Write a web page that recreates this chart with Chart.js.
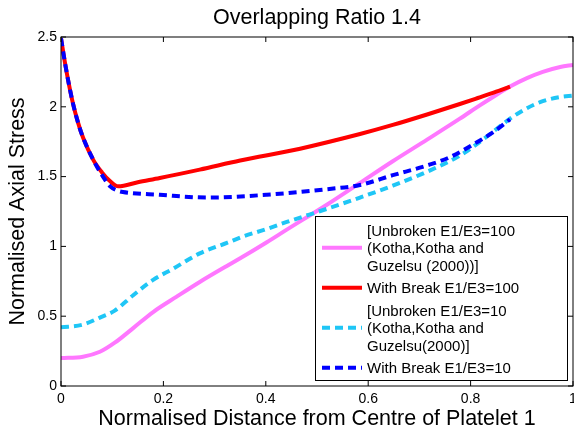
<!DOCTYPE html>
<html>
<head>
<meta charset="utf-8">
<script src="https://cdn.jsdelivr.net/npm/chart.js@4"></script>
<style>
    html, body { margin: 0; padding: 0; background: #fff; overflow: hidden; }
</style>
</head>
<body>
<canvas id="chart" width="574" height="432"></canvas>
<script>
// Series data
const unbroken100X = [0, 0.043, 0.076, 0.105, 0.141, 0.18, 0.226, 0.271, 0.324, 0.35, 0.402, 0.441, 0.52, 0.584, 0.648, 0.715, 0.779, 0.818, 0.85, 0.877, 0.91, 0.941, 0.975, 1.0];
const unbroken100Y = [0.20, 0.21, 0.245, 0.31, 0.415, 0.53, 0.64, 0.745, 0.86, 0.915, 1.03, 1.12, 1.30, 1.455, 1.61, 1.765, 1.915, 2.01, 2.085, 2.145, 2.205, 2.25, 2.285, 2.30];

const break100X = [0, 0.008, 0.015, 0.023, 0.033, 0.043, 0.063, 0.08, 0.095, 0.112, 0.15, 0.193, 0.271, 0.35, 0.467, 0.584, 0.648, 0.715, 0.779, 0.814, 0.85, 0.877];
const break100Y = [2.49, 2.31, 2.17, 2.03, 1.89, 1.78, 1.62, 1.53, 1.47, 1.43, 1.46, 1.49, 1.55, 1.615, 1.70, 1.805, 1.87, 1.945, 2.02, 2.063, 2.108, 2.145];

const unbroken10X = [0, 0.043, 0.076, 0.105, 0.141, 0.18, 0.219, 0.271, 0.324, 0.355, 0.402, 0.441, 0.52, 0.584, 0.648, 0.715, 0.779, 0.824, 0.877, 0.91, 0.941, 0.975, 1.0];
const unbroken10Y = [0.42, 0.44, 0.49, 0.54, 0.65, 0.76, 0.84, 0.95, 1.025, 1.07, 1.125, 1.175, 1.27, 1.35, 1.435, 1.535, 1.65, 1.765, 1.915, 1.99, 2.04, 2.07, 2.08];

const break10X = [0, 0.008, 0.015, 0.023, 0.033, 0.043, 0.063, 0.082, 0.096, 0.11, 0.121, 0.193, 0.285, 0.402, 0.52, 0.584, 0.648, 0.715, 0.76, 0.814, 0.845, 0.877];
const break10Y = [2.49, 2.31, 2.17, 2.03, 1.89, 1.78, 1.62, 1.50, 1.43, 1.40, 1.39, 1.37, 1.35, 1.37, 1.41, 1.44, 1.51, 1.58, 1.64, 1.75, 1.82, 1.91];

// Tick labels
const xTicks = [0, 0.2, 0.4, 0.6, 0.8, 1];
const yTicks = [0, 0.5, 1, 1.5, 2, 2.5];

// Legend text (multi-line entries)
const legendLabels = [
    ['[Unbroken E1/E3=100', '(Kotha,Kotha and', 'Guzelsu (2000))]'],
    ['With Break E1/E3=100'],
    ['[Unbroken E1/E3=10', '(Kotha,Kotha and', 'Guzelsu(2000)]'],
    ['With Break E1/E3=10']
];

const FONT = '"Liberation Sans", Arial, Helvetica, sans-serif';

function toPoints(xs, ys) {
    return xs.map((x, i) => ({ x: x, y: ys[i] }));
}

function series(xs, ys, color, dashed, order) {
    return {
        data: toPoints(xs, ys),
        borderColor: color,
        backgroundColor: color,
        borderWidth: 4,
        borderDash: dashed ? [8, 5] : [],
        borderCapStyle: 'butt',
        pointRadius: 0,
        showLine: true,
        fill: false,
        cubicInterpolationMode: 'monotone',
        clip: 0,
        order: order
    };
}

// Box around the plot, inward ticks on all four sides, and the boxed legend
const matlabAxes = {
    id: 'matlabAxes',
    afterDatasetsDraw(chart) {
        const ctx = chart.ctx;
        const a = chart.chartArea;
        const xs = chart.scales.x, ys = chart.scales.y;
        const tl = 5;
        ctx.save();
        ctx.strokeStyle = '#000';
        ctx.lineWidth = 1;
        ctx.setLineDash([]);
        ctx.strokeRect(a.left, a.top, a.right - a.left, a.bottom - a.top);
        ctx.beginPath();
        xTicks.forEach(v => {
            const px = xs.getPixelForValue(v);
            ctx.moveTo(px, a.bottom); ctx.lineTo(px, a.bottom - tl);
            ctx.moveTo(px, a.top); ctx.lineTo(px, a.top + tl);
        });
        yTicks.forEach(v => {
            const py = ys.getPixelForValue(v);
            ctx.moveTo(a.left, py); ctx.lineTo(a.left + tl, py);
            ctx.moveTo(a.right, py); ctx.lineTo(a.right - tl, py);
        });
        ctx.stroke();

        // legend
        const box = { x: 315.5, y: 216.5, w: 252, h: 164 };
        ctx.fillStyle = '#fff';
        ctx.fillRect(box.x, box.y, box.w, box.h);
        ctx.strokeRect(box.x, box.y, box.w, box.h);
        const lineH = 17.3;
        let cursor = 220.6;
        ctx.font = '15px ' + FONT;
        ctx.textAlign = 'left';
        ctx.textBaseline = 'middle';
        legendLabels.forEach((lines, i) => {
            const ds = chart.data.datasets[i];
            const h = lines.length * lineH + 5.4;
            const center = cursor + h / 2;
            ctx.strokeStyle = ds.borderColor;
            ctx.lineWidth = ds.borderWidth;
            ctx.lineCap = 'butt';
            ctx.setLineDash(ds.borderDash);
            ctx.beginPath();
            ctx.moveTo(322, center - 1.5);
            ctx.lineTo(362, center - 1.5);
            ctx.stroke();
            ctx.setLineDash([]);
            ctx.fillStyle = '#000';
            lines.forEach((t, j) => {
                ctx.fillText(t, 367, center + (j - (lines.length - 1) / 2) * lineH);
            });
            cursor += h;
        });
        ctx.restore();
    }
};

const ctx = document.getElementById('chart').getContext('2d');
new Chart(ctx, {
    type: 'scatter',
    data: {
        datasets: [
            series(unbroken100X, unbroken100Y, '#FF77FF', false, 4),
            series(break100X, break100Y, '#FF0000', false, 3),
            series(unbroken10X, unbroken10Y, '#1FC6F6', true, 2),
            series(break10X, break10Y, '#0000FF', true, 1)
        ]
    },
    options: {
        responsive: false,
        animation: false,
        devicePixelRatio: 1,
        layout: { padding: { left: 0, right: 1, top: 0, bottom: 0 } },
        plugins: {
            legend: { display: false },
            tooltip: { enabled: false },
            title: {
                display: true,
                text: 'Overlapping Ratio 1.4',
                color: '#000',
                fullSize: false,
                font: { family: FONT, size: 21.5, weight: 'normal' },
                padding: { top: 5, bottom: 6.2 }
            }
        },
        scales: {
            x: {
                type: 'linear',
                min: 0,
                max: 1,
                grid: { display: false, drawTicks: false },
                border: { display: false },
                afterBuildTicks: s => { s.ticks = xTicks.map(v => ({ value: v })); },
                afterFit: s => { s.height = 46; s.paddingLeft = 0; s.paddingRight = 0; },
                ticks: {
                    color: '#000',
                    padding: 5,
                    maxRotation: 0,
                    autoSkip: false,
                    font: { family: FONT, size: 14 },
                    callback: v => String(+v.toFixed(2))
                },
                title: {
                    display: true,
                    text: 'Normalised Distance from Centre of Platelet 1',
                    color: '#000',
                    font: { family: FONT, size: 21.5 },
                    padding: { top: 2.6, bottom: 0 }
                }
            },
            y: {
                type: 'linear',
                min: 0,
                max: 2.5,
                grid: { display: false, drawTicks: false },
                border: { display: false },
                afterBuildTicks: s => { s.ticks = yTicks.map(v => ({ value: v })); },
                afterFit: s => { s.width = 61; s.paddingTop = 0; s.paddingBottom = 0; },
                ticks: {
                    color: '#000',
                    padding: 4,
                    autoSkip: false,
                    font: { family: FONT, size: 14 },
                    callback: v => String(+v.toFixed(2))
                },
                title: {
                    display: true,
                    text: 'Normalised Axial Stress',
                    color: '#000',
                    font: { family: FONT, size: 21.5 },
                    padding: { top: 5.6, bottom: 0 }
                }
            }
        }
    },
    plugins: [matlabAxes]
});
</script>
</body>
</html>
